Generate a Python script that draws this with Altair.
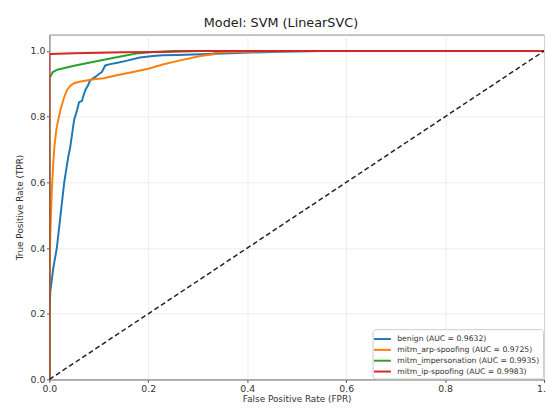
import altair as alt
import pandas as pd

series_names = ["benign", "mitm_arp-spoofing", "mitm_impersonation", "mitm_ip-spoofing"]
auc_values = ["0.9632", "0.9725", "0.9935", "0.9983"]
colors = ["#1f77b4", "#ff7f0e", "#2ca02c", "#d62728"]

benign_fpr = [0, 0, 0.002, 0.008, 0.015, 0.03, 0.038, 0.042, 0.05, 0.056, 0.06, 0.066, 0.068,
              0.073, 0.078, 0.083, 0.093, 0.1, 0.106, 0.113, 0.123, 0.14, 0.155, 0.183, 0.209,
              0.229, 0.26, 0.305, 0.38, 0.465, 0.55, 1.0]
benign_tpr = [0, 0.2, 0.27, 0.34, 0.40, 0.6, 0.676, 0.706, 0.79, 0.82, 0.844, 0.848, 0.86,
              0.882, 0.895, 0.912, 0.921, 0.93, 0.936, 0.956, 0.96, 0.965, 0.97, 0.98, 0.985,
              0.987, 0.988, 0.99, 0.994, 0.998, 1.0, 1.0]

arp_fpr = [0, 0, 0.002, 0.005, 0.008, 0.01, 0.014, 0.017, 0.023, 0.03, 0.036, 0.043, 0.05,
           0.063, 0.09, 0.11, 0.136, 0.169, 0.2, 0.229, 0.26, 0.305, 0.332, 0.333, 0.4, 0.5, 1.0]
arp_tpr = [0, 0.3, 0.45, 0.58, 0.66, 0.706, 0.76, 0.784, 0.824, 0.86, 0.882, 0.895, 0.902,
           0.907, 0.914, 0.917, 0.926, 0.936, 0.946, 0.959, 0.97, 0.985, 0.99, 0.995, 0.998, 1.0, 1.0]

imp_fpr = [0, 0, 0.003, 0.007, 0.016, 0.05, 0.1, 0.149, 0.175, 0.209, 0.25, 1.0]
imp_tpr = [0, 0.92, 0.925, 0.936, 0.943, 0.955, 0.97, 0.985, 0.992, 0.997, 1.0, 1.0]

ip_fpr = [0, 0, 0.003, 0.05, 0.15, 0.229, 0.3, 1.0]
ip_tpr = [0, 0.99, 0.991, 0.993, 0.996, 0.997, 1.0, 1.0]

tick_vals = [0.0, 0.2, 0.4, 0.6, 0.8, 1.0]

labels = [f"{n} (AUC = {a})" for n, a in zip(series_names, auc_values)]
rows = []
for lab, fx, ty in zip(labels, [benign_fpr, arp_fpr, imp_fpr, ip_fpr],
                       [benign_tpr, arp_tpr, imp_tpr, ip_tpr]):
    for i, (f, t) in enumerate(zip(fx, ty)):
        rows.append({"series": lab, "fpr": f, "tpr": t, "idx": i})
df = pd.DataFrame(rows)

diag = pd.DataFrame({"fpr": [0.0, 1.0], "tpr": [0.0, 1.0]})

xscale = alt.Scale(domain=[0, 1], nice=False, zero=False)
yscale = alt.Scale(domain=[0, 1.05], nice=False, zero=False)

xaxis = alt.Axis(values=tick_vals, format=".1f", title="False Positive Rate (FPR)",
                 labelFlush=False)
yaxis = alt.Axis(values=tick_vals, format=".1f", title="True Positive Rate (TPR)")

curves = alt.Chart(df).mark_line(strokeWidth=2, clip=True).encode(
    x=alt.X("fpr:Q", scale=xscale, axis=xaxis),
    y=alt.Y("tpr:Q", scale=yscale, axis=yaxis),
    color=alt.Color("series:N", scale=alt.Scale(domain=labels, range=colors),
                    sort=labels,
                    legend=alt.Legend(title=None, orient="bottom-right", offset=1,
                                      symbolType="M-1.5,0H1.5", symbolStrokeWidth=2,
                                      symbolSize=130, labelFontSize=7.8,
                                      labelColor="#333", rowPadding=0,
                                      fillColor="white", strokeColor="#ccc",
                                      padding=3, cornerRadius=3, labelLimit=300,
                                      labelOffset=8)),
    order="idx:Q",
)

diag_line = alt.Chart(diag).mark_line(color="#222", strokeDash=[5, 3], strokeWidth=1.5).encode(
    x=alt.X("fpr:Q", scale=xscale),
    y=alt.Y("tpr:Q", scale=yscale),
)

chart = alt.layer(curves, diag_line).properties(
    width=502,
    height=350,
    title=alt.TitleParams("Model: SVM (LinearSVC)", fontSize=13, fontWeight="normal",
                          color="#222", font="DejaVu Sans", offset=5, dx=-16),
    autosize=alt.AutoSizeParams(type="none"),
    padding={"left": 42, "top": 24, "right": 2, "bottom": 24},
).configure_view(
    stroke="#888", strokeWidth=1
).configure_axis(
    labelFont="DejaVu Sans", titleFont="DejaVu Sans", labelFontSize=9.5,
    titleFontSize=9, titleFontWeight="normal", labelColor="#333", titleColor="#333",
    gridColor="#e8e8e8", gridWidth=0.8, domainColor="#888", tickColor="#555",
    tickSize=3, labelPadding=1.5,
).configure_axisX(titlePadding=1).configure_axisY(titlePadding=6).configure_legend(
    labelFont="DejaVu Sans"
)

chart.save("out.html", embed_options={"renderer": "svg", "actions": False})
